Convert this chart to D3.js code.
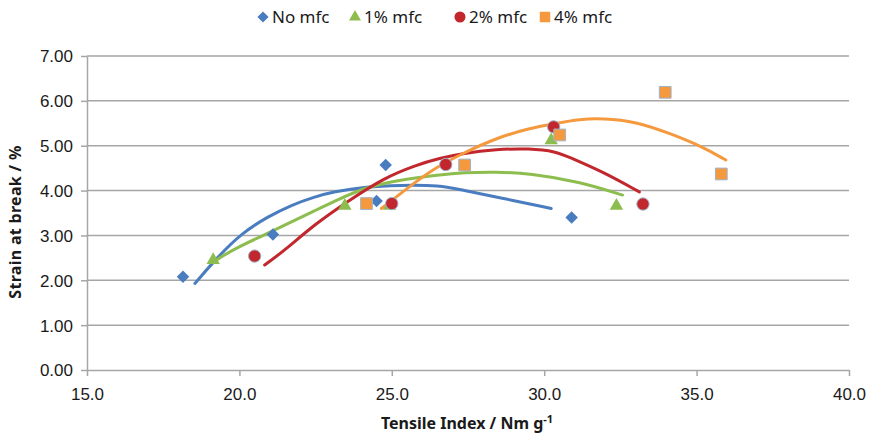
<!DOCTYPE html>
<html lang="en">
<head>
    <meta charset="UTF-8">
    <title>Strain at break vs Tensile Index</title>
    <script src="https://d3js.org/d3.v7.min.js"></script>
    <style>
        body {
            margin: 0;
            background: #fff;
            font-family: "Noto Sans", Arial, sans-serif;
        }
        .grid line {
            stroke: #a6a6a6;
            stroke-width: 1.5px;
        }
        .axis path, .axis line {
            stroke: #a6a6a6;
            stroke-width: 1.5px;
        }
        .axis text {
            font-size: 17px;
            fill: #1a1a1a;
        }
        .title {
            font-size: 16px;
            font-weight: bold;
            fill: #1a1a1a;
        }
        .legend text {
            font-size: 17px;
            fill: #1a1a1a;
        }
        .trend {
            fill: none;
            stroke-width: 3px;
            stroke-linecap: round;
        }
    </style>
</head>
<body>
    <div id="chart"></div>

    <script>
        const seriesNames = ["No mfc", "1% mfc", "2% mfc", "4% mfc"];
        const colors = ["#4a7dc0", "#8dbd4e", "#c1272d", "#f5993f"];
        const xTicks = [15, 20, 25, 30, 35, 40];
        const yTicks = [0, 1, 2, 3, 4, 5, 6, 7];

        // measured points: [tensile index, strain at break]
        const noMfc = [[18.15, 2.08], [21.1, 3.02], [24.8, 4.57], [24.5, 3.77], [30.9, 3.40]];
        const mfc1 = [[19.14, 2.45], [23.46, 3.66], [24.93, 3.66], [30.23, 5.12], [32.37, 3.66]];
        const mfc2 = [[20.5, 2.54], [25.0, 3.71], [26.77, 4.58], [30.31, 5.42], [33.24, 3.70]];
        const mfc4 = [[24.17, 3.71], [27.39, 4.57], [30.51, 5.24], [33.97, 6.19], [35.81, 4.37]];

        // trend lines
        const trendNo = [[18.54, 1.93], [19.30, 2.53], [20.07, 3.05], [20.94, 3.42], [21.71, 3.68],
            [22.47, 3.86], [23.07, 3.97], [24.16, 4.09], [25.26, 4.12], [26.57, 4.12],
            [27.33, 4.01], [28.42, 3.86], [30.23, 3.60]];
        const trend1 = [[19.14, 2.41], [19.85, 2.71], [20.94, 3.05], [21.71, 3.30], [22.47, 3.55],
            [23.07, 3.75], [24.16, 4.08], [25.26, 4.24], [26.57, 4.35], [27.33, 4.40],
            [28.42, 4.42], [29.52, 4.38], [31.16, 4.20], [32.57, 3.90]];
        const trend2 = [[20.83, 2.34], [21.49, 2.67], [22.47, 3.25], [23.62, 3.79], [24.71, 4.27],
            [25.80, 4.57], [26.57, 4.72], [27.33, 4.83], [28.42, 4.92], [29.52, 4.94],
            [30.39, 4.87], [30.83, 4.74], [31.92, 4.42], [33.12, 3.97]];
        const trend4 = [[24.66, 3.60], [25.58, 4.09], [26.40, 4.50], [27.33, 4.83], [28.42, 5.17],
            [29.52, 5.39], [30.39, 5.50], [31.16, 5.59], [31.92, 5.61], [33.01, 5.54],
            [34.10, 5.28], [35.19, 4.98], [35.96, 4.68]];

        const points = [noMfc, mfc1, mfc2, mfc4];
        const trends = [trendNo, trend1, trend2, trend4];
        // diamond = square turned 45 degrees, like the spreadsheet marker
        const symbols = [d3.symbolSquare, d3.symbolTriangle, d3.symbolCircle, d3.symbolSquare];
        const symbolRot = [45, 0, 0, 0];
        const symbolSizes = [78, 78, 120, 138];

        const width = 871;
        const height = 435;
        const margin = {left: 87, right: 22, top: 56, bottom: 65};

        const svg = d3.select("#chart")
            .append("svg")
            .attr("width", width)
            .attr("height", height);

        const x = d3.scaleLinear().domain([15, 40]).range([margin.left, width - margin.right]);
        const y = d3.scaleLinear().domain([0, 7]).range([height - margin.bottom, margin.top]);

        // gridlines
        svg.append("g")
            .attr("class", "grid")
            .selectAll("line")
            .data(yTicks.filter(d => d > 0))
            .enter()
            .append("line")
            .attr("x1", x(15))
            .attr("x2", x(40))
            .attr("y1", d => y(d))
            .attr("y2", d => y(d));

        svg.append("g")
            .attr("class", "axis")
            .attr("transform", `translate(0,${y(0)})`)
            .call(d3.axisBottom(x).tickValues(xTicks).tickFormat(d3.format(".1f")).tickSize(6).tickSizeOuter(0).tickPadding(12));

        const yAxis = svg.append("g")
            .attr("class", "axis")
            .attr("transform", `translate(${x(15)},0)`)
            .call(d3.axisLeft(y).tickValues(yTicks).tickFormat(d3.format(".2f")).tickSize(6).tickSizeOuter(0).tickPadding(8));

        yAxis.selectAll("text").attr("dy", "0.35em");

        // trend lines
        const line = d3.line()
            .x(d => x(d[0]))
            .y(d => y(d[1]))
            .curve(d3.curveBasis);

        svg.append("g")
            .selectAll("path")
            .data(trends)
            .enter()
            .append("path")
            .attr("class", "trend")
            .attr("stroke", (d, i) => colors[i])
            .attr("d", line);

        // markers
        points.forEach((pts, i) => {
            svg.append("g")
                .selectAll("path")
                .data(pts)
                .enter()
                .append("path")
                .attr("transform", d => `translate(${x(d[0])},${y(d[1])}) rotate(${symbolRot[i]})`)
                .attr("d", d3.symbol().type(symbols[i]).size(symbolSizes[i]))
                .attr("fill", colors[i])
                .attr("stroke", i >= 2 ? "#9fb3c8" : "none")
                .attr("stroke-width", 1);
        });

        // axis titles
        svg.append("text")
            .attr("class", "title")
            .attr("transform", `translate(21,${(y(0) + y(7)) / 2 + 9}) rotate(-90)`)
            .attr("text-anchor", "middle")
            .attr("letter-spacing", "0.3px")
            .text("Strain at break / %");

        const xt = svg.append("text")
            .attr("class", "title")
            .attr("x", 467)
            .attr("y", 429)
            .attr("text-anchor", "middle");
        xt.append("tspan").text("Tensile Index / Nm g");
        xt.append("tspan").attr("dy", -6).attr("font-size", "11px").text("-1");

        // legend
        const legendX = [263, 355, 460, 545];
        const legend = svg.append("g").attr("class", "legend");
        seriesNames.forEach((name, i) => {
            legend.append("path")
                .attr("transform", `translate(${legendX[i]},17) rotate(${symbolRot[i]})`)
                .attr("d", d3.symbol().type(symbols[i]).size(symbolSizes[i] * 0.8))
                .attr("fill", colors[i]);
            legend.append("text")
                .attr("x", legendX[i] + 9)
                .attr("y", 17)
                .attr("dy", "0.35em")
                .text(name);
        });
    </script>
</body>
</html>
